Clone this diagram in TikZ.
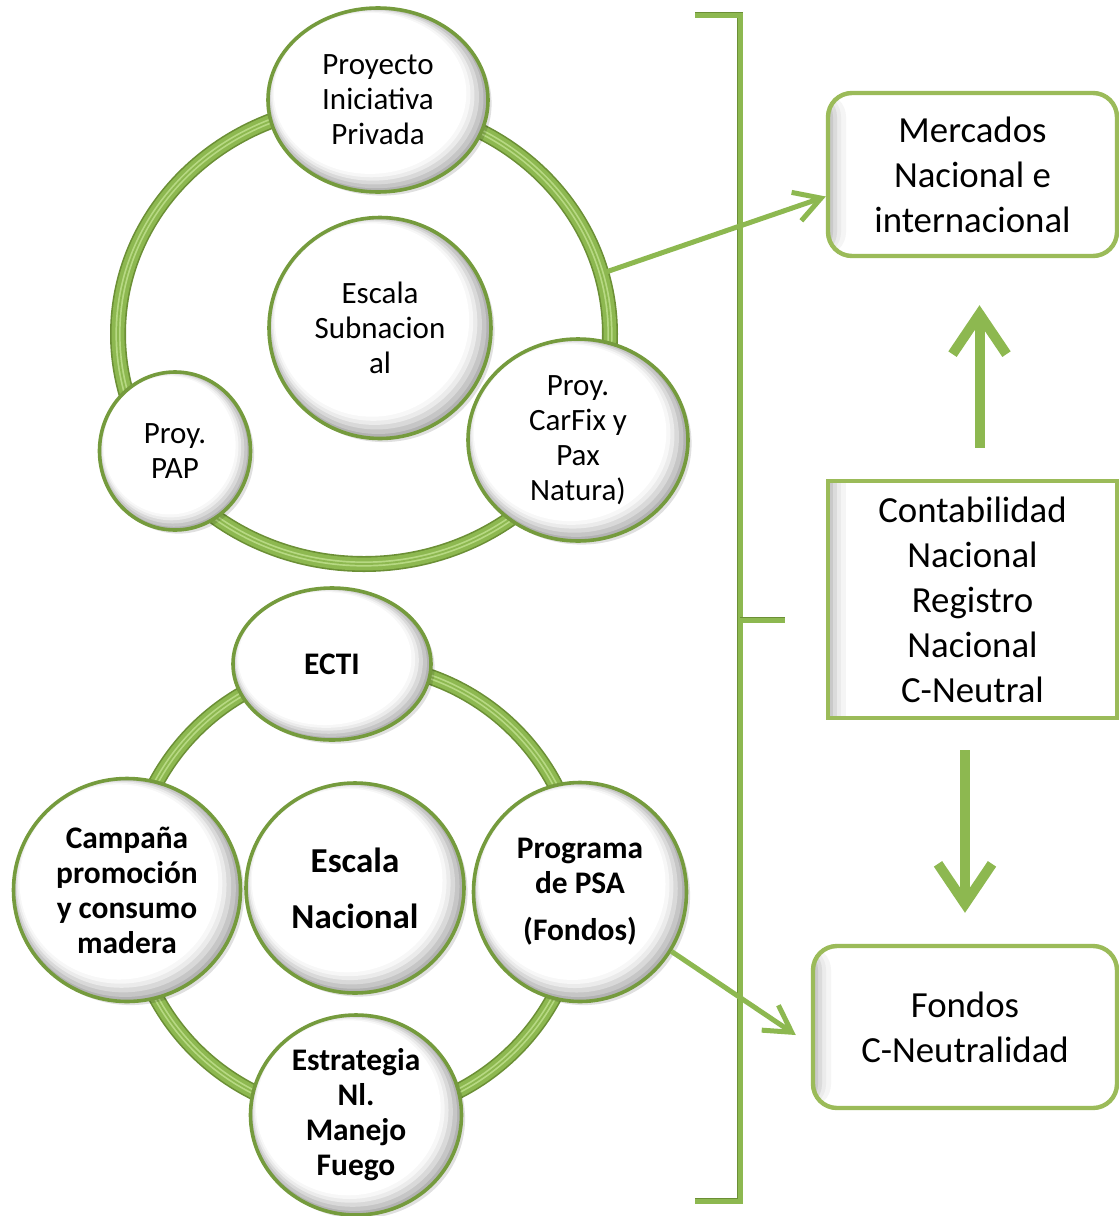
\documentclass[tikz,border=0pt]{standalone}
\usepackage{fontspec}
\setmainfont{Carlito}
\usetikzlibrary{shapes.geometric,arrows.meta,calc}
\definecolor{greenMid}{HTML}{8DB850}
\definecolor{greenDark}{HTML}{6B8F35}
\definecolor{greenLight}{HTML}{B7D983}
\definecolor{boxGreen}{HTML}{9BBB59}
\begin{document}
\begin{tikzpicture}
        [x=0.5pt, y=-0.5pt,
        bubble/.style={ellipse, draw=greenDark!70!greenMid, line width=1.8pt, fill=gray!60, inner sep=0pt, align=center,
            font=\fontsize{15.5}{17.5}\selectfont,
            preaction={fill=black, opacity=0.12, transform canvas={shift={(1.8pt,-1.8pt)}}},
            path picture={
                \path (path picture bounding box.south west) coordinate (bbA) (path picture bounding box.north east) coordinate (bbB);
                \foreach \lvl/\fac/\off in {45/0.975/0.008, 30/0.95/0.016, 16/0.925/0.024, 6/0.90/0.03, 0/0.875/0.036}
                    \fill[gray!\lvl] let \p1=(bbA), \p2=(bbB) in
                        ({0.5*(\x1+\x2)-\off*(\x2-\x1)}, {0.5*(\y1+\y2)+\off*(\y2-\y1)}) ellipse ({\fac*(\x2-\x1)/2} and {\fac*(\y2-\y1)/2});
            }},
        bubbleBold/.style={bubble, font=\bfseries\fontsize{15.7}{17.5}\selectfont},
        ring/.style={draw=greenDark, line width=8pt, postaction={draw=greenMid, line width=6.4pt},
            postaction={draw=greenLight, line width=2.6pt}, postaction={draw=greenMid, line width=0.9pt}},
        box/.style={rectangle, draw=boxGreen, line width=2.2pt, fill=white, align=center, inner sep=0pt, font=\fontsize{18.4}{22.5}\selectfont,
            path picture={
                \foreach \lvl/\wd in {8/9, 16/6.5, 28/4.5, 42/2.5}
                    \fill[gray!\lvl] (path picture bounding box.south west) rectangle ([xshift=\wd pt]path picture bounding box.north west);
            }},
        boxRound/.style={box, rounded corners=12pt},
        thinArrow/.style={draw=greenMid, line width=2.5pt, -{Straight Barb[length=13pt,width=15pt]}},
        bigArrow/.style={draw=greenMid, line width=5pt, -{Straight Barb[length=20pt,width=27pt]}},
        bracket/.style={draw=greenMid, line width=2.5pt, preaction={draw=greenDark, line width=3.3pt}}]
        \path[use as bounding box, fill=white] (0,0) rectangle (1119,1216);

        \coordinate (topC) at (364,334);
        \coordinate (botC) at (355,890);
        \draw[ring] (topC) ellipse (123pt and 115pt);
        \draw[ring] (botC) ellipse (113pt and 113pt);

        \node[bubble, minimum width=110pt, minimum height=92pt] (pip) at (378,100) {Proyecto\\Iniciativa\\Privada};
        \node[bubble, minimum width=111pt, minimum height=110.5pt] (sub) at (380,328) {Escala\\Subnacion\\al};
        \node[bubble, minimum width=75.5pt, minimum height=79pt] (pap) at (175,451) {Proy.\\PAP};
        \node[bubble, minimum width=110pt, minimum height=101pt] (cfx) at (578,440) {Proy.\\CarFix y\\Pax\\Natura)};

        \node[bubbleBold, minimum width=99pt, minimum height=76pt] (ecti) at (332,664) {ECTI};
        \node[bubbleBold, minimum width=113.5pt, minimum height=111.5pt] (camp) at (127,890) {Campaña\\promoción\\y consumo\\madera};
        \node[bubbleBold, minimum width=109pt, minimum height=105pt, font=\bfseries\fontsize{17.5}{28}\selectfont] (nac) at (355,888) {Escala\\Nacional};
        \node[bubbleBold, minimum width=106.5pt, minimum height=109.5pt] (psa) at (580,892) {Programa\\de PSA\\[6pt](Fondos)};
        \node[bubbleBold, minimum width=105.5pt, minimum height=100pt] (enf) at (356,1115) {Estrategia\\Nl.\\Manejo\\Fuego};

        \draw[bracket] (695,15) -- (740,15) -- (740,1201) -- (695,1201);
        \draw[bracket] (740,620) -- (785,620);

        \node[boxRound, minimum width=144.5pt, minimum height=81.5pt] (merc) at (972.5,174.5) {Mercados\\Nacional e\\internacional};
        \node[box, minimum width=144.5pt, minimum height=118.5pt] (cont) at (972.5,599.5) {Contabilidad\\Nacional\\Registro\\Nacional\\C-Neutral};
        \node[boxRound, minimum width=152pt, minimum height=81pt] (fon) at (965,1027) {Fondos\\C-Neutralidad};

        \coordinate (ringOut) at (606,272);
        \draw[thinArrow] (ringOut) -- ([yshift=-11pt]merc.west);
        \draw[thinArrow] (psa.-33) -- ([xshift=-7.5pt,yshift=-4pt]fon.west);
        \draw[bigArrow, shorten <=15.5pt, shorten >=23.5pt] ([xshift=3.5pt]cont.north) -- ([xshift=3.5pt]merc.south);
        \draw[bigArrow, shorten <=15pt, shorten >=15.5pt] (cont.south -| fon.north) -- (fon.north);
    \end{tikzpicture}
\end{document}
